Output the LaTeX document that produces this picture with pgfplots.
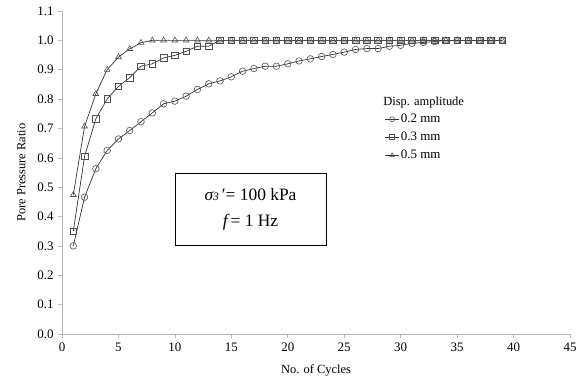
\documentclass[border=0pt]{standalone}
\usepackage{pgfplots}
\pgfplotsset{compat=1.18}
\usepackage{fontspec}
\setmainfont{Liberation Serif}
\definecolor{axgray}{HTML}{B8B8B8}
\definecolor{linec}{HTML}{333333}
\definecolor{markc}{HTML}{505050}
\begin{document}
\begin{tikzpicture}
\path[use as bounding box] (-62bp,-51bp) rectangle (522bp,334bp);
\begin{axis}[
  at={(0,0)}, anchor=south west,
  scale only axis, width=508bp, height=323bp,
  xmin=0, xmax=45, ymin=0, ymax=1.1,
  xtick={0,5,...,45},
  ytick={0,0.1,...,1.1},
  axis lines*=left,
  axis line style={draw=axgray, line width=0.8pt, -},
  tick style={draw=axgray, line width=0.6pt},
  major tick length=4bp,
  tick align=outside,
  /pgf/number format/assume math mode=true,
  yticklabel style={/pgf/number format/fixed, /pgf/number format/fixed zerofill, /pgf/number format/precision=1, font=\fontsize{13}{15}\selectfont, xshift=-1bp},
  xticklabel style={font=\fontsize{13}{15}\selectfont, yshift=-1bp},
  xlabel={No. of Cycles},
  ylabel={Pore Pressure Ratio},
  xlabel style={font=\fontsize{12.5}{14}\selectfont, yshift=-7bp},
  ylabel style={font=\fontsize{12.5}{14}\selectfont, yshift=5bp},
  legend style={at={(0.635,0.686)}, anchor=north west, draw=none, fill=none,
    font=\fontsize{13}{15}\selectfont, row sep=5bp, inner sep=0pt,
    nodes={inner sep=1.5bp}},
  legend cell align=left,
  legend image code/.code={\draw[mark repeat=2,mark phase=2, mark size=2.5bp] plot coordinates {(0bp,0bp)(7bp,0bp)(14bp,0bp)};},
  every axis plot/.append style={draw=linec, line width=0.7pt, mark size=3.3bp, mark options={draw=markc, fill=none, line width=0.6pt, solid}},
  clip=false,
]
\addplot[mark=o] coordinates {
(1,0.30)(2,0.466)(3,0.563)(4,0.625)(5,0.664)(6,0.693)(7,0.723)(8,0.753)(9,0.784)(10,0.793)
(11,0.81)(12,0.833)(13,0.852)(14,0.862)(15,0.876)(16,0.895)(17,0.904)(18,0.912)(19,0.912)(20,0.92)
(21,0.93)(22,0.937)(23,0.945)(24,0.952)(25,0.96)(26,0.969)(27,0.972)(28,0.972)(29,0.98)(30,0.983)
(31,0.99)(32,0.993)(33,0.996)(34,1)(35,1)(36,1)(37,1)(38,1)(39,1)};
\addlegendentry{0.2 mm}
\addplot[mark=square] coordinates {
(1,0.35)(2,0.605)(3,0.733)(4,0.80)(5,0.843)(6,0.873)(7,0.912)(8,0.92)(9,0.94)(10,0.949)
(11,0.963)(12,0.98)(13,0.98)(14,1)(15,1)(16,1)(17,1)(18,1)(19,1)(20,1)
(21,1)(22,1)(23,1)(24,1)(25,1)(26,1)(27,1)(28,1)(29,1)(30,1)
(31,1)(32,1)(33,1)(34,1)(35,1)(36,1)(37,1)(38,1)(39,1)};
\addlegendentry{0.3 mm}
\addplot[mark=triangle] coordinates {
(1,0.474)(2,0.707)(3,0.818)(4,0.90)(5,0.943)(6,0.971)(7,0.992)(8,1)(9,1)(10,1)
(11,1)(12,1)(13,1)(14,1)(15,1)(16,1)(17,1)(18,1)(19,1)(20,1)
(21,1)(22,1)(23,1)(24,1)(25,1)(26,1)(27,1)(28,1)(29,1)(30,1)
(31,1)(32,1)(33,1)(34,1)(35,1)(36,1)(37,1)(38,1)(39,1)};
\addlegendentry{0.5 mm}
\node[font=\fontsize{12.5}{14}\selectfont] at (axis cs:32.04,0.788) {Disp. amplitude};
\node[draw=black, line width=0.8pt, fill=white, minimum width=151bp, minimum height=72bp, align=center,
  font=\fontsize{17.5}{26}\selectfont] at (axis cs:16.7,0.426)
  {{\itshape σ}{\itshape\fontsize{11.5}{12}\selectfont 3}\,′= 100 kPa\\ {\itshape f}\,= 1 Hz};
\end{axis}
\end{tikzpicture}
\end{document}
